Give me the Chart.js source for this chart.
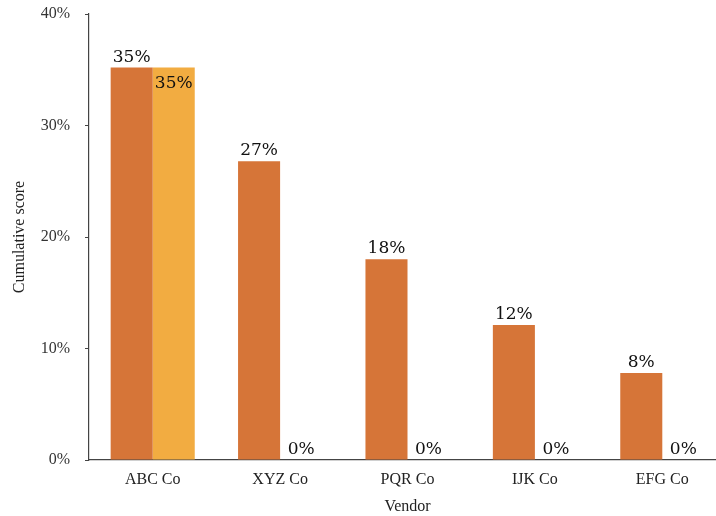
<!DOCTYPE html>
<html>
<head>
<meta charset="utf-8">
<script src="https://cdn.jsdelivr.net/npm/chart.js@4/dist/chart.umd.min.js"></script>
<style>
  html, body { margin: 0; padding: 0; background: #fff; overflow: hidden; }
  #wrap { width: 716px; height: 516px; overflow: hidden; }
</style>
</head>
<body>
<div id="wrap"><canvas id="myChart" width="726" height="516"></canvas></div>
<script>
// data
const vendors = ['ABC Co', 'XYZ Co', 'PQR Co', 'IJK Co', 'EFG Co'];
const scoreA = [35.2, 26.8, 18.0, 12.1, 7.8];
const scoreB = [35.2, 0, 0, 0, 0];
const yTicks = [0, 10, 20, 30, 40];

// value labels drawn on top of the bars
const barLabels = {
  id: 'barLabels',
  afterDatasetsDraw(chart) {
    const ctx = chart.ctx;
    ctx.save();
    ctx.font = '17px "DejaVu Serif"';
    ctx.fillStyle = '#111';
    ctx.textAlign = 'center';
    ctx.textBaseline = 'alphabetic';
    chart.data.datasets.forEach(function(ds, i) {
      const meta = chart.getDatasetMeta(i);
      meta.data.forEach(function(bar, j) {
        const txt = Math.round(ds.data[j]) + '%';
        let y;
        if (i == 0) {
          y = bar.y - 6;
        } else {
          y = Math.min(bar.y + 20, bar.base - 6);
        }
        ctx.fillText(txt, bar.x, y);
      });
    });
    ctx.restore();
  }
};

new Chart('myChart', {
  type: 'bar',
  data: {
    labels: vendors,
    datasets: [{
      data: scoreA,
      backgroundColor: '#D67538',
      categoryPercentage: 0.66,
      barPercentage: 1.0
    }, {
      data: scoreB,
      backgroundColor: '#F2AC41',
      categoryPercentage: 0.66,
      barPercentage: 1.0
    }]
  },
  options: {
    responsive: false,
    animation: false,
    layout: { padding: { top: 14, right: 0, left: 0, bottom: 0 } },
    plugins: {
      legend: { display: false },
      tooltip: { enabled: false }
    },
    scales: {
      x: {
        grid: { display: false, drawTicks: false },
        border: { display: true, color: '#444', width: 1.2 },
        ticks: {
          padding: 10,
          color: '#222',
          font: { family: '"Liberation Serif"', size: 16 }
        },
        title: {
          display: true,
          text: 'Vendor',
          color: '#222',
          padding: { top: 4, bottom: 0 },
          font: { family: '"Liberation Serif"', size: 16 }
        },
        afterFit: function(scale) { scale.height = 56; }
      },
      y: {
        min: 0,
        max: 40,
        afterBuildTicks: function(scale) {
          scale.ticks = yTicks.map(function(v) { return { value: v }; });
        },
        grid: { display: true, drawOnChartArea: false, drawTicks: true, tickLength: 4, color: '#444' },
        border: { display: true, color: '#444', width: 1.2 },
        ticks: {
          padding: 15,
          color: '#333',
          font: { family: '"Liberation Serif"', size: 16 },
          callback: function(v) { return v + '%'; }
        },
        title: {
          display: true,
          text: 'Cumulative score',
          color: '#222',
          padding: { top: 10, bottom: 0 },
          font: { family: '"Liberation Serif"', size: 16 }
        },
        afterFit: function(scale) {
          scale.width = 89;
          scale.paddingTop = 0;
          scale.paddingBottom = 0;
        }
      }
    }
  },
  plugins: [barLabels]
});
</script>
</body>
</html>
